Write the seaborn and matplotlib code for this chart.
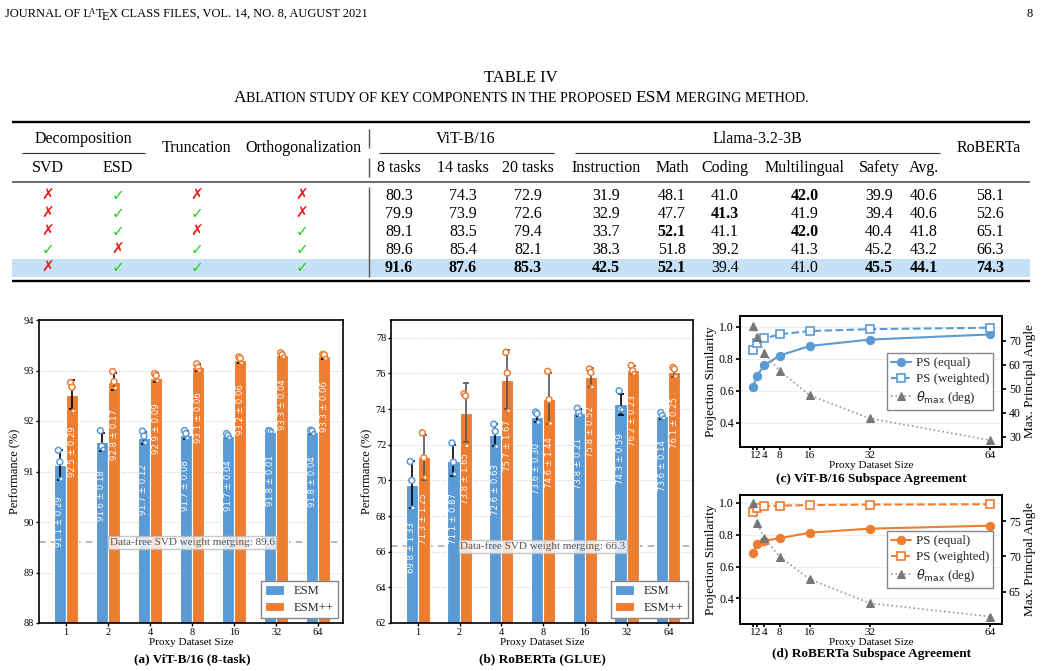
import numpy as np
import pandas as pd
import matplotlib
matplotlib.use("Agg")
import matplotlib.pyplot as plt
import seaborn as sns
from matplotlib.patches import Rectangle

# --- Table IV data ---
SVD = [0, 0, 0, 1, 0]
ESD = [1, 1, 1, 0, 1]
TRUNC = [0, 1, 0, 1, 1]
ORTHO = [0, 0, 1, 1, 1]
VIT_8 = [80.3, 79.9, 89.1, 89.6, 91.6]
VIT_14 = [74.3, 73.9, 83.5, 85.4, 87.6]
VIT_20 = [72.9, 72.6, 79.4, 82.1, 85.3]
LL_INSTR = [31.9, 32.9, 33.7, 38.3, 42.5]
LL_MATH = [48.1, 47.7, 52.1, 51.8, 52.1]
LL_CODE = [41.0, 41.3, 41.1, 39.2, 39.4]
LL_MULTI = [42.0, 41.9, 42.0, 41.3, 41.0]
LL_SAFE = [39.9, 39.4, 40.4, 45.2, 45.5]
LL_AVG = [40.6, 40.6, 41.8, 43.2, 44.1]
ROBERTA = [58.1, 52.6, 65.1, 66.3, 74.3]

# --- proxy dataset size sweep ---
SIZES = [1, 2, 4, 8, 16, 32, 64]

# (a) ViT-B/16 8-task
VIT_ESM_MEAN = [91.13, 91.58, 91.67, 91.73, 91.70, 91.79, 91.78]
VIT_ESM_STD = [0.29, 0.18, 0.12, 0.08, 0.04, 0.01, 0.04]
VIT_ESM_PTS = [[91.42, 91.19, 90.85], [91.81, 91.50, 91.44], [91.80, 91.70, 91.57],
               [91.81, 91.75, 91.66], [91.75, 91.71, 91.67], [91.81, 91.80, 91.79],
               [91.82, 91.80, 91.75]]
VIT_PP_MEAN = [92.52, 92.78, 92.86, 93.06, 93.21, 93.30, 93.28]
VIT_PP_STD = [0.29, 0.17, 0.09, 0.06, 0.06, 0.04, 0.06]
VIT_PP_PTS = [[92.76, 92.67, 92.20], [92.98, 92.78, 92.65], [92.94, 92.90, 92.80],
              [93.13, 93.06, 93.00], [93.27, 93.24, 93.15], [93.35, 93.31, 93.27],
              [93.32, 93.31, 93.24]]
VIT_SVD = 89.6

# (b) RoBERTa GLUE
RB_ESM_MEAN = [69.76, 71.10, 72.56, 73.56, 73.80, 74.28, 73.60]
RB_ESM_STD = [1.33, 0.87, 0.63, 0.30, 0.21, 0.59, 0.14]
RB_ESM_PTS = [[71.06, 70.00, 68.46], [72.10, 71.02, 70.36], [73.16, 72.75, 71.90],
              [73.84, 73.74, 73.25], [74.05, 73.80, 73.65], [75.03, 74.00, 73.97],
              [73.81, 73.63, 73.50]]
RB_PP_MEAN = [71.30, 73.80, 75.66, 74.58, 75.78, 76.20, 76.08]
RB_PP_STD = [1.25, 1.65, 1.67, 1.44, 0.52, 0.23, 0.25]
RB_PP_PTS = [[72.67, 71.27, 70.17], [74.86, 74.75, 71.94], [77.18, 76.03, 73.90],
             [76.12, 74.53, 73.20], [76.25, 76.06, 75.24], [76.45, 76.15, 76.00],
             [76.34, 76.25, 75.84]]
RB_SVD = 66.3

# (c) ViT-B/16 subspace agreement
VIT_PS_EQ = [0.623, 0.695, 0.760, 0.820, 0.880, 0.920, 0.952]
VIT_PS_W = [0.857, 0.900, 0.927, 0.953, 0.973, 0.985, 0.994]
VIT_THETA = [76.2, 71.7, 64.9, 57.5, 47.3, 37.7, 28.6]

# (d) RoBERTa subspace agreement
RB_PS_EQ = [0.683, 0.739, 0.762, 0.777, 0.812, 0.837, 0.856]
RB_PS_W = [0.944, 0.969, 0.979, 0.981, 0.985, 0.988, 0.990]
RB_THETA = [77.6, 74.7, 72.55, 69.95, 66.75, 63.35, 61.45]

BLUE = "#5b9bd5"
ORANGE = "#ed7d31"
SERIF = ["Liberation Serif", "DejaVu Serif"]
W, H = 1041, 671

sns.set_theme(style="ticks")
plt.rcParams["font.family"] = SERIF
plt.rcParams["mathtext.fontset"] = "dejavusans"
plt.rcParams["axes.edgecolor"] = "black"
plt.rcParams["axes.linewidth"] = 1.2

fig = plt.figure(figsize=(W / 100, H / 100), dpi=100)
bg = fig.add_axes([0, 0, 1, 1], zorder=0)
bg.set_xlim(0, W)
bg.set_ylim(H, 0)
bg.axis("off")


def px_axes(x0, y0, x1, y1):
    return fig.add_axes([x0 / W, 1 - y1 / H, (x1 - x0) / W, (y1 - y0) / H], zorder=2)


def text_run(x, y, pieces, center=False):
    # pieces: (text, size, dy, dx)
    r = fig.canvas.get_renderer()
    arts, total = [], 0.0
    for s, size, dy, dx in pieces:
        t = bg.text(0, y + dy, s, fontsize=size, va="baseline", color="black")
        w = t.get_window_extent(r).width
        arts.append((t, w, dx))
        total += w + dx
    cur = x - total / 2 if center else x
    for t, w, dx in arts:
        cur += dx
        t.set_x(cur)
        cur += w


# --- page header ---
text_run(5, 17, [("JOURNAL OF L", 9, 0, 0), ("A", 6.3, -3, -1.6), ("T", 9, 0, -0.4),
                 ("E", 9, 3, -0.9), ("X CLASS FILES, VOL. 14, NO. 8, AUGUST 2021", 9, 0, -0.9)])
bg.text(1033, 17, "8", fontsize=9, ha="right", va="baseline", color="black")

# --- table caption ---
bg.text(521, 82, "TABLE IV", fontsize=12, ha="center", va="baseline", color="black")
text_run(521, 102, [("A", 12.6, 0, 0), ("BLATION STUDY OF KEY COMPONENTS IN THE PROPOSED ", 10.1, 0, 0),
                    ("ESM", 12.6, 0, 0), (" MERGING METHOD.", 10.1, 0, 0)], center=True)

# --- table ---
TX0, TX1 = 12, 1030
bg.add_patch(Rectangle((TX0, 259), TX1 - TX0, 18, color="#c6e0f8", zorder=0.5, lw=0))
for y, lw in [(122, 1.7), (281, 1.7)]:
    bg.plot([TX0, TX1], [y, y], color="black", lw=lw, solid_capstyle="butt")
bg.plot([TX0, TX1], [181.5, 181.5], color="#444444", lw=1.1, solid_capstyle="butt")
for x0, x1 in [(22, 145), (379, 554), (575, 940)]:
    bg.plot([x0, x1], [152.5, 152.5], color="#333333", lw=0.8, solid_capstyle="butt")
for y0, y1 in [(129, 148), (158, 177), (187, 277)]:
    bg.plot([369, 369], [y0, y1], color="#555555", lw=1.0, solid_capstyle="butt")

FS = 11.5
def cell(x, y, s, bold=False, size=FS, **kw):
    bg.text(x, y, s, fontsize=size, ha="center", va="baseline", color="black",
            fontweight="bold" if bold else "normal", **kw)

cell(83.5, 143, "Decomposition")
cell(196, 152, "Truncation")
cell(303, 152, "Orthogonalization")
cell(466, 143, "ViT-B/16")
cell(757, 143, "Llama-3.2-3B")
cell(989, 152, "RoBERTa")
COLS = [48, 118, 197, 302, 399, 463, 528, 606, 672, 725, 805, 879, 924, 990]
HEAD2 = ["SVD", "ESD", None, None, "8 tasks", "14 tasks", "20 tasks", "Instruction",
         "Math", "Coding", "Multilingual", "Safety", "Avg.", None]
for x, h in zip(COLS, HEAD2):
    if h:
        cell(x, 172, h)

flags = [SVD, ESD, TRUNC, ORTHO]
nums = [VIT_8, VIT_14, VIT_20, LL_INSTR, LL_MATH, LL_CODE, LL_MULTI, LL_SAFE, LL_AVG, ROBERTA]
ROW_Y = [200, 218, 236, 254, 272]
for r, y in enumerate(ROW_Y):
    for c, col in enumerate(flags):
        ok = col[r] == 1
        bg.text(COLS[c], y, "\u2713" if ok else "\u2717", fontsize=11, ha="center", va="baseline",
                color="#1fd11f" if ok else "#ee1c1c", family="DejaVu Sans")
    for c, col in enumerate(nums):
        cell(COLS[4 + c], y, f"{col[r]:.1f}", bold=col[r] == max(col))


# --- bar panels ---
def bar_panel(ax, esm_m, esm_s, esm_p, pp_m, pp_s, pp_p, ylim, yticks, svd, pp_err):
    df = pd.DataFrame({
        "size": [str(s) for s in SIZES] * 2,
        "method": ["ESM"] * len(SIZES) + ["ESM++"] * len(SIZES),
        "perf": list(esm_m) + list(pp_m),
    })
    sns.barplot(data=df, x="size", y="perf", hue="method", palette=[BLUE, ORANGE], saturation=1,
                width=0.58, edgecolor="white", linewidth=0.8, errorbar=None, ax=ax, zorder=2)
    bars = list(ax.patches)
    span = ylim[1] - ylim[0]
    groups = [(bars[:7], esm_m, esm_s, esm_p, BLUE, "black"),
              (bars[7:14], pp_m, pp_s, pp_p, ORANGE, pp_err)]
    for patches, m, s, pts, col, ecol in groups:
        xs = [p.get_x() + p.get_width() / 2 for p in patches]
        ax.errorbar(xs, m, yerr=s, fmt="none", ecolor=ecol, elinewidth=1.2,
                    capsize=2.5, capthick=1.2, zorder=3)
        for x, vals, mm, ss in zip(xs, pts, m, s):
            ax.scatter([x - 0.035, x, x + 0.035], vals, s=[18, 18, 8], facecolor="white",
                       edgecolor=col, linewidth=1.1, zorder=4)
            ax.text(x, mm - 0.6 * ss - 0.075 * span, f"{mm:.1f} \u00b1 {ss:.2f}", rotation=90,
                    ha="center", va="top", color="white", fontsize=6.2, family="DejaVu Sans",
                    zorder=3.5)
    ax.axhline(svd, ls=(0, (4, 3)), color="#aaaaaa", lw=1.2, zorder=1)
    ax.text(3, svd, f"Data-free SVD weight merging: {svd}", ha="center", va="center",
            fontsize=8, color="#555555", zorder=5,
            bbox=dict(boxstyle="square,pad=0.15", fc="white", ec="#bbbbbb", alpha=0.8))
    ax.set_ylim(*ylim)
    ax.set_yticks(yticks)
    ax.set_xlim(-0.64, 6.59)
    ax.yaxis.grid(True, ls=":", lw=0.8, color="#cccccc")
    ax.set_axisbelow(True)
    ax.tick_params(labelsize=7.5, length=2, width=1, colors="black", pad=1.5)
    ax.set_xlabel("Proxy Dataset Size", fontsize=8, color="black")
    ax.xaxis.set_label_coords(0.5, -0.05)
    ax.set_ylabel("Performance (%)", fontsize=9, labelpad=1.5, color="black")
    h, l = ax.get_legend_handles_labels()
    ax.legend(h, l, loc="lower right", frameon=True, fancybox=False, edgecolor="#888888",
              framealpha=1, fontsize=9, handlelength=1.5, handleheight=0.8, labelspacing=0.35,
              borderpad=0.35, borderaxespad=0.4)


ax_a = px_axes(39, 320, 343, 623)
bar_panel(ax_a, VIT_ESM_MEAN, VIT_ESM_STD, VIT_ESM_PTS, VIT_PP_MEAN, VIT_PP_STD, VIT_PP_PTS,
          (88, 94), range(88, 95), VIT_SVD, "black")
ax_b = px_axes(391, 320, 693, 623)
bar_panel(ax_b, RB_ESM_MEAN, RB_ESM_STD, RB_ESM_PTS, RB_PP_MEAN, RB_PP_STD, RB_PP_PTS,
          (62, 79), range(62, 79, 2), RB_SVD, "#555555")
bg.text(192, 659, "(a) ViT-B/16 (8-task)", fontsize=9.5, fontweight="bold", ha="center", va="center", color="black")
bg.text(542, 659, "(b) RoBERTa (GLUE)", fontsize=9.5, fontweight="bold", ha="center", va="center", color="black")


# --- subspace agreement panels ---
def agree_panel(ax, eq, wt, theta, col, ylim, ylim2, yticks2):
    sns.lineplot(x=SIZES, y=eq, ax=ax, color=col, lw=1.5, marker="o", markersize=6,
                 markeredgecolor=col, label="PS (equal)")
    sns.lineplot(x=SIZES, y=wt, ax=ax, color=col, lw=1.5, linestyle="--", marker="s",
                 markersize=6, markerfacecolor="white", markeredgecolor=col,
                 markeredgewidth=1.2, label="PS (weighted)")
    ax2 = ax.twinx()
    sns.lineplot(x=SIZES, y=theta, ax=ax2, color="#999999", lw=1.2, linestyle=":", marker="^",
                 markersize=6, markerfacecolor="#777777", markeredgecolor="#777777",
                 label=r"$\theta_{\max}$ (deg)")
    for a in (ax, ax2):
        if a.get_legend():
            a.get_legend().remove()
    ax.set_xlim(-2.5, 67.1)
    ax.set_xticks(SIZES)
    ax.set_ylim(*ylim)
    ax.set_yticks([0.4, 0.6, 0.8, 1.0])
    ax.yaxis.grid(True, lw=0.8, color="#eeeeee")
    ax2.set_ylim(*ylim2)
    ax2.set_yticks(yticks2)
    ax.tick_params(axis="y", labelsize=8.5, length=3, colors="black", pad=1.5)
    ax.tick_params(axis="x", labelsize=8, length=2, colors="black", pad=1)
    ax2.tick_params(labelsize=8.5, length=3, colors="black", pad=2)
    ax.set_xlabel("Proxy Dataset Size", fontsize=8, color="black")
    ax.xaxis.set_label_coords(0.5, -0.105)
    ax.set_ylabel("Projection Similarity", fontsize=9.5, labelpad=1.5, color="black")
    ax2.set_ylabel("Max. Principal Angle", fontsize=9.5, labelpad=2, color="black")
    h1, l1 = ax.get_legend_handles_labels()
    h2, l2 = ax2.get_legend_handles_labels()
    ax2.legend(h1 + h2, l1 + l2, loc="center right", bbox_to_anchor=(0.99, 0.5), frameon=True,
               fancybox=False, edgecolor="#888888", framealpha=1, fontsize=9.3, handlelength=1.5,
               handletextpad=0.4, borderpad=0.3, labelspacing=0.3)


ax_c = px_axes(740, 316, 1002, 447)
agree_panel(ax_c, VIT_PS_EQ, VIT_PS_W, VIT_THETA, BLUE, (0.25, 1.067), (25.8, 80.3), range(30, 80, 10))
ax_d = px_axes(740, 495, 1002, 624)
agree_panel(ax_d, RB_PS_EQ, RB_PS_W, RB_THETA, ORANGE, (0.24, 1.048), (60.4, 78.7), [65, 70, 75])
bg.text(871, 479, "(c) ViT-B/16 Subspace Agreement", fontsize=9.5, fontweight="bold", ha="center", va="center", color="black")
bg.text(871, 654, "(d) RoBERTa Subspace Agreement", fontsize=9.5, fontweight="bold", ha="center", va="center", color="black")

fig.savefig("out.png", dpi=100)
